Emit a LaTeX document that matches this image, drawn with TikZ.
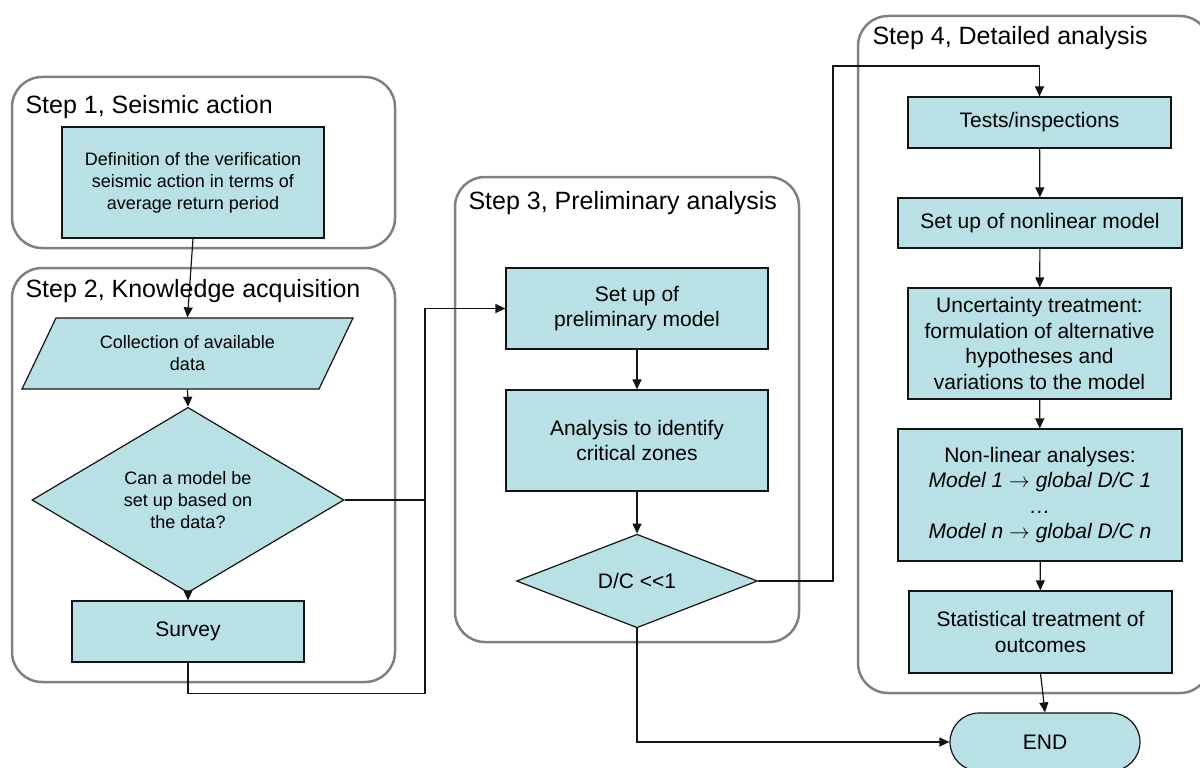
\documentclass[tikz,border=0pt]{standalone}
\usepackage{fontspec}
\setmainfont{Liberation Sans}
\usepackage{xcolor}
\usepackage{tikz}
\usetikzlibrary{arrows.meta,positioning,shapes.geometric}
\definecolor{seis@fill}{RGB}{185,224,228}
\definecolor{seis@frame}{RGB}{128,128,128}
\definecolor{seis@line}{RGB}{20,20,20}
\tikzset{
  seis/.style={
    x=1pt, y=-1pt,
    >={Triangle[length=10pt,width=9pt]},
    line width=1pt
  },
  stage/.style={                   % step container
    draw=seis@frame, line width=2.5pt,
    rounded corners=30pt
  },
  stagetitle/.style={
    anchor=west, inner sep=0pt,
    font=\fontsize{25}{30}\selectfont
  },
  procbox/.style={                 % process box
    draw=seis@line, line width=1.2pt,
    fill=seis@fill,
    inner sep=2pt,
    align=center,
    font=\fontsize{21}{25.5}\selectfont
  },
  smallbox/.style={
    procbox,
    font=\fontsize{18}{22}\selectfont
  },
  databox/.style={                 % input data
    smallbox, trapezium,
    trapezium left angle=46, trapezium right angle=134,
    trapezium stretches body,
    inner sep=0pt
  },
  decide/.style={                  % decision
    procbox, diamond, inner sep=0pt
  },
  terminal/.style={
    procbox, rounded corners=29pt
  },
  flow/.style={->, line width=1.2pt, draw=seis@line},
  joint/.style={line width=1.2pt, draw=seis@line}
}
\begin{document}
\begin{tikzpicture}[seis]
\useasboundingbox (0,0) rectangle (1200,768);

% Step containers
\draw[stage] (12,77) rectangle (395,248);
\draw[stage] (12,268) rectangle (395,682);
\draw[stage] (455,177) rectangle (799,642);
\draw[stage] (858,16) rectangle (1210,693);

\node[stagetitle] (t1) at (25,107) {Step 1, Seismic action};
\node[stagetitle] (t2) at (25,291) {Step 2, Knowledge acquisition};
\node[stagetitle] (t3) at (468,203) {Step 3, Preliminary analysis};
\node[stagetitle] (t4) at (872,38) {Step 4, Detailed analysis};

% Step 1 and 2
\node[smallbox, minimum width=262pt, minimum height=111pt] (defn) at (193,182.5)
  {Definition of the verification\\seismic action in terms of\\average return period};
\node[databox, minimum width=331pt, minimum height=71pt] (collect) at (187.5,353.5)
  {Collection of available\\data};
\node[decide, smallbox, diamond, inner sep=0pt, minimum width=312pt, minimum height=140pt] (choice) at (188,500)
  {Can a model be\\set up based on\\the data?};
\node[procbox, minimum width=232pt, minimum height=61pt] (survey) at (188,631.5) {Survey};

% Step 3
\node[procbox, minimum width=262pt, minimum height=81pt] (prelim) at (637,308.5)
  {Set up of\\preliminary model};
\node[procbox, minimum width=262pt, minimum height=101pt] (crit) at (637,440.5)
  {Analysis to identify\\critical zones};
\node[decide, minimum width=241pt, minimum height=80pt] (dc) at (637,581) {D/C <\kern0pt<1};

% Step 4
\node[procbox, minimum width=263pt, minimum height=51pt] (tests) at (1039.5,122.5) {Tests/inspections};
\node[procbox, minimum width=284pt, minimum height=50pt] (nonlin) at (1040,223) {Set up of nonlinear model};
\node[procbox, minimum width=263pt, minimum height=111pt] (uncert) at (1039.5,343.5)
  {Uncertainty treatment:\\formulation of alternative\\hypotheses and\\variations to the model};
\node[procbox, minimum width=284pt, minimum height=132pt] (runs) at (1040,495)
  {Non-linear analyses:\\\textit{Model 1 $\rightarrow$ global D/C 1}\\\textit{\ldots}\\\textit{Model n $\rightarrow$ global D/C n}};
\node[procbox, minimum width=263pt, minimum height=82pt] (stats) at (1040.5,632)
  {Statistical treatment of\\outcomes};
\node[terminal, minimum width=190pt, minimum height=58pt] (end) at (1045,742) {END};

% Bends of the connectors
\coordinate (bus) at (425,308.5);
\coordinate (loop) at (833,66);

% Connectors, steps 1 and 2
\draw[flow] (defn.south) -- (collect.north);
\draw[flow] (collect.south) -- (choice.north);
\draw[flow] (choice.south) -- (survey.north);
\draw[joint] (choice.east) -- (choice.east -| bus);
\draw[flow] (survey.south) -- ++(0,31) -| (bus) -- (prelim.west);

% Connectors, step 3
\draw[flow] (prelim) -- (crit);
\draw[flow] (crit) -- (dc);
\draw[flow] (dc.east) -| (loop) -| (tests.north);
\draw[flow] (dc.south) |- (end.west);

% Connectors, step 4
\draw[flow] (tests) -- (nonlin);
\draw[flow] (nonlin) -- (uncert);
\draw[flow] (uncert) -- (runs);
\draw[flow] (runs) -- (stats);
\draw[flow] (stats.south) -- (end.north);

\end{tikzpicture}
\end{document}
